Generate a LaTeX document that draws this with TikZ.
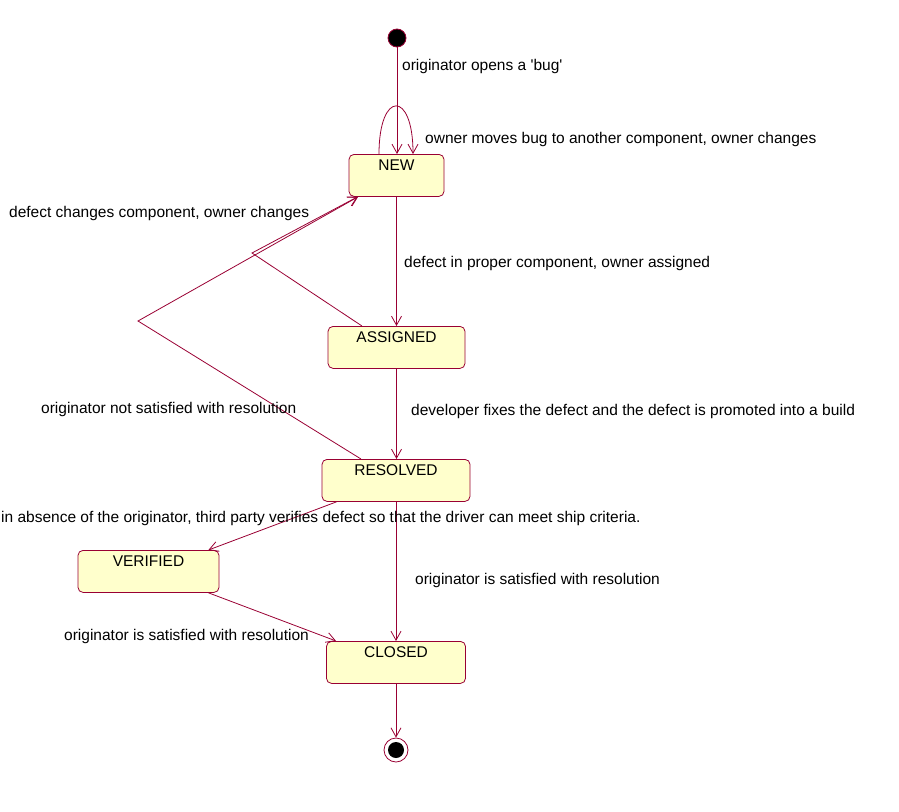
\documentclass[tikz,border=0pt]{standalone}
\usepackage{fontspec}
\setmainfont{Liberation Sans}
\usetikzlibrary{arrows.meta}
\definecolor{edgecol}{RGB}{153,0,51}
\definecolor{statefill}{RGB}{255,255,204}
\begin{document}
\begin{tikzpicture}[x=1pt,y=-1pt,
  font=\fontsize{15.5}{18}\selectfont,
  state/.style={rectangle, draw=edgecol, fill=statefill, rounded corners=5pt,
    minimum height=42pt, inner xsep=0pt, inner ysep=0pt,
    text height=16.5pt, text depth=25.5pt, anchor=north, line width=0.8pt},
  tr/.style={draw=edgecol, line width=0.8pt, -{Straight Barb[length=9pt,width=10pt]}},
  lbl/.style={anchor=base west, inner sep=0pt}]
\useasboundingbox (0,0) rectangle (899,811);

% states
\node[circle, fill=black, draw=edgecol, line width=0.8pt, minimum size=18pt, inner sep=0pt] (start) at (397,38) {};
\node[state, minimum width=95pt] (new) at (396.5,154) {NEW};
\node[state, minimum width=137pt] (assigned) at (396.5,326) {ASSIGNED};
\node[state, minimum width=148pt] (resolved) at (396,459) {RESOLVED};
\node[state, minimum width=141pt] (verified) at (148.5,550) {VERIFIED};
\node[state, minimum width=139pt] (closed) at (396,641) {CLOSED};
\node[circle, draw=edgecol, line width=0.8pt, minimum size=24pt, inner sep=0pt] (final) at (396,750) {};
\node[circle, fill=black, minimum size=16pt, inner sep=0pt] (finalin) at (396,750) {};

% bend points
\coordinate (b1) at (252,253);
\coordinate (b2) at (138,321);

% transitions
\draw[tr] (start.south) -- (start.south |- new.north);
\draw[tr] ([xshift=-17.5pt]new.north) .. controls +(0,-64) and +(0,-64) .. ([xshift=16.5pt]new.north);
\draw[tr] (new.south) -- (new.south |- assigned.north);
\draw[tr] ([xshift=-34.5pt]assigned.north) -- (b1) -- ([xshift=9pt]new.south west);
\draw[tr] ([xshift=-35pt]resolved.north) -- (b2) -- ([xshift=9.5pt]new.south west);
\draw[tr] (assigned.south) -- (assigned.south |- resolved.north);
\draw[tr] ([xshift=15pt]resolved.south west) -- ([xshift=-11pt]verified.north east);
\draw[tr] (resolved.south) -- (resolved.south |- closed.north);
\draw[tr] ([xshift=-11pt]verified.south east) -- ([xshift=10pt]closed.north west);
\draw[tr] (closed.south) -- (closed.south |- final.north);

% labels
\node[lbl] (l1) at (402,70) {originator opens a \textquotesingle bug\textquotesingle};
\node[lbl] (l2) at (425,143) {owner moves bug to another component, owner changes};
\node[lbl] (l3) at (9,217) {defect changes component, owner changes};
\node[lbl] (l4) at (404,267) {defect in proper component, owner assigned};
\node[lbl] (l5) at (41,413) {originator not satisfied with resolution};
\node[lbl] (l6) at (411,415) {developer fixes the defect and the defect is promoted into a build};
\node[lbl] (l7) at (1,522) {in absence of the originator, third party verifies defect so that the driver can meet ship criteria.};
\node[lbl] (l8) at (415,584) {originator is satisfied with resolution};
\node[lbl] (l9) at (64,640) {originator is satisfied with resolution};
\end{tikzpicture}
\end{document}
